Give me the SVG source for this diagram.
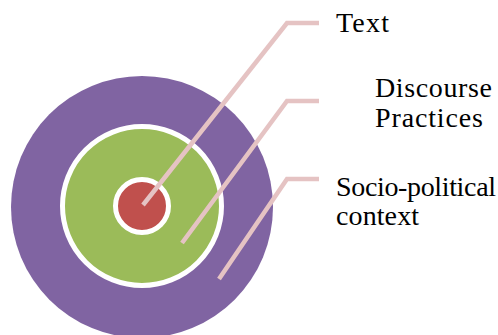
<svg xmlns="http://www.w3.org/2000/svg" width="498" height="335" viewBox="0 0 498 335">
<style>
.lbl{font-family:"Liberation Serif","DejaVu Serif",serif;font-size:28px;fill:#000}
.con{fill:none;stroke:#E5C3C3;stroke-width:4.5;stroke-linejoin:miter}
</style>
<rect width="498" height="335" fill="#fff"/>
<g id="outer"><circle cx="142" cy="207" r="131" fill="#8064A2"/></g>
<g id="middle"><circle cx="142" cy="206" r="79.5" fill="#9BBB59" stroke="#fff" stroke-width="5"/></g>
<g id="inner"><circle cx="142" cy="206" r="26.5" fill="#C0504D" stroke="#fff" stroke-width="5"/></g>
<g id="connectors">
<polyline class="con" points="143,205 287,23 319,23"/>
<polyline class="con" points="182,243 287,101 319,101"/>
<polyline class="con" points="219,279 287,179 319,179"/>
</g>
<g id="label-text"><text class="lbl" x="336" y="32" textLength="53">Text</text></g>
<g id="label-discourse"><text class="lbl" x="375" y="97" textLength="117">Discourse</text><text class="lbl" x="375" y="127" textLength="108">Practices</text></g>
<g id="label-socio"><text class="lbl" x="336" y="196" textLength="160">Socio-political</text><text class="lbl" x="336" y="225" textLength="83">context</text></g>
</svg>
